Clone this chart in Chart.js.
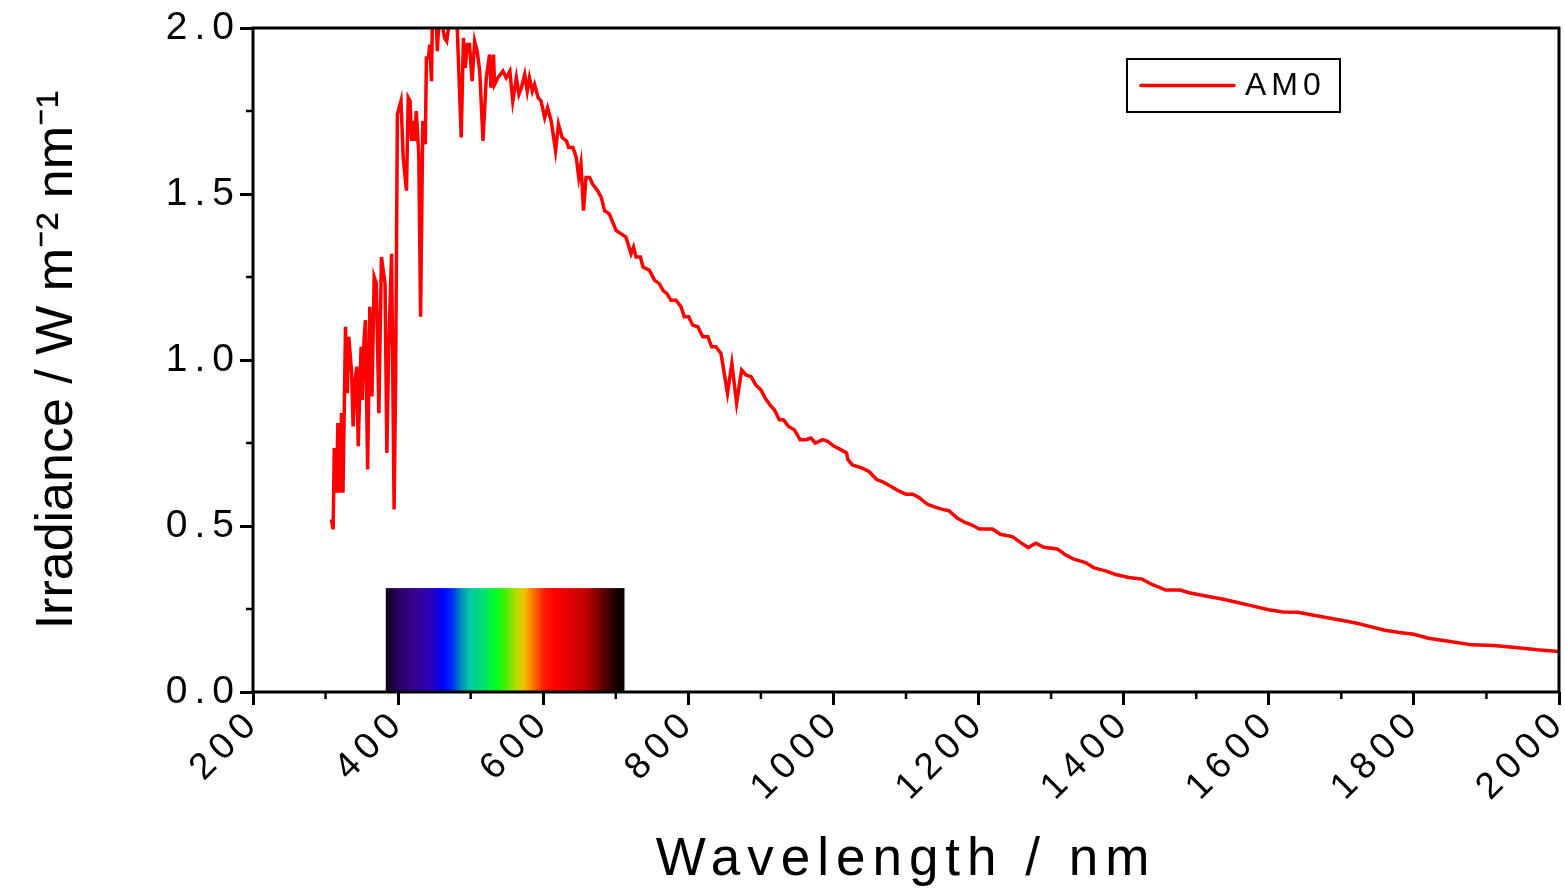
<!DOCTYPE html>
<html>
<head>
<meta charset="utf-8">
<title>AM0 solar spectrum</title>
<script src="https://cdn.jsdelivr.net/npm/chart.js@4.4.1/dist/chart.umd.min.js"></script>
<style>
  html, body { margin: 0; padding: 0; background: #fff; }
  #wrap { width: 1565px; height: 893px; }
</style>
</head>
<body>
<div id="wrap"><canvas id="am0chart" width="1565" height="893"></canvas></div>
<script>
 "use strict";

	/*----------------------------------------*/
	/*  data
	/*----------------------------------------*/
var wavelength = [
  308, 310.5, 312, 315, 317, 320, 322, 324, 327.5, 330, 332, 336, 338, 340.5, 343, 345,
  349, 350.5, 353, 355, 358, 361, 364, 367, 370, 373.5, 377, 382, 384.5, 387, 391, 394.5,
  396.5, 399, 404, 407, 411.5, 414, 416.5, 418.5, 420.5, 423, 425, 428.5, 431, 434, 437.5,
  439, 442, 443.5, 446, 447.5, 450, 452, 454, 457, 460, 464, 467, 470, 474, 478, 481, 484,
  487, 490, 492.5, 495.5, 498.5, 502, 505.5, 509, 512.5, 517, 521.5, 526, 528, 531.5, 533,
  537.5, 544.5, 549, 554, 558, 563, 566.5, 570, 574.5, 578, 581, 585, 588, 593, 597, 602,
  606, 611, 617, 621, 626, 632, 635, 641, 645.5, 649, 652, 655.5, 659, 664, 668, 675, 680,
  684.5, 691, 700.5, 707.5, 714, 721, 724.5, 728, 734, 737.5, 746.5, 753.5, 760, 765, 770.5,
  776, 783, 790, 794.5, 800.5, 806, 813, 820, 827, 832, 838, 845, 854, 860, 866.5, 873.5,
  879.5, 886.5, 893, 900, 906, 912.5, 918.5, 925.5, 931, 938, 946, 954, 962, 969, 975, 985,
  992, 1001, 1010, 1018, 1020, 1026, 1038, 1049, 1059.5, 1068, 1079, 1090.5, 1100, 1109,
  1118, 1129, 1141, 1150, 1159, 1171, 1182, 1191, 1201, 1219, 1230, 1246.5, 1258, 1268.5,
  1279, 1290, 1308.5, 1320, 1331.5, 1347.5, 1359, 1375, 1389, 1407, 1425.5, 1439, 1458,
  1478, 1490, 1513, 1536, 1560, 1580, 1600, 1620, 1640, 1660, 1700, 1720, 1740, 1760, 1780,
  1800, 1820, 1850, 1880, 1910, 1940, 1970, 2000
];
var irradiance = [
  0.52, 0.49, 0.735, 0.60, 0.81, 0.60, 0.84, 0.60, 1.10, 0.90, 1.07, 0.96, 0.80, 0.93, 0.98, 0.74,
  1.04, 0.88, 1.06, 1.12, 0.67, 1.16, 0.89, 1.25, 1.23, 0.84, 1.31, 1.23, 0.72, 1.03, 1.32, 0.55,
  0.92, 1.74, 1.78, 1.61, 1.51, 1.79, 1.78, 1.66, 1.72, 1.66, 1.75, 1.62, 1.13, 1.72, 1.65,
  1.91, 1.91, 1.95, 1.84, 2.06, 2.03, 2.06, 1.93, 2.05, 2.02, 1.97, 1.96, 2.01, 2.06, 2.05, 2.03, 1.85,
  1.67, 1.97, 1.88, 1.95, 1.95, 1.84, 1.96, 1.93, 1.87, 1.66, 1.85, 1.92, 1.82, 1.92, 1.83,
  1.85, 1.87, 1.85, 1.87, 1.78, 1.85, 1.80, 1.82, 1.86, 1.81, 1.85, 1.81, 1.83, 1.79, 1.78, 1.73,
  1.76, 1.72, 1.63, 1.71, 1.67, 1.66, 1.64, 1.64, 1.61, 1.55, 1.59, 1.45, 1.55, 1.55, 1.53, 1.51, 1.49,
  1.45, 1.44, 1.39, 1.38, 1.37, 1.32, 1.34, 1.31, 1.31, 1.28, 1.27, 1.24, 1.23, 1.21, 1.20,
  1.18, 1.18, 1.16, 1.13, 1.13, 1.105, 1.10, 1.07, 1.07, 1.04, 1.04, 1.02, 0.90, 0.99, 0.87, 0.97,
  0.955, 0.95, 0.925, 0.91, 0.885, 0.865, 0.85, 0.82, 0.82, 0.80, 0.79, 0.76, 0.76, 0.765, 0.75, 0.76,
  0.755, 0.74, 0.73, 0.72, 0.70, 0.684, 0.676, 0.664, 0.64, 0.633, 0.62, 0.605, 0.596, 0.596,
  0.586, 0.566, 0.556, 0.55, 0.546, 0.523, 0.51, 0.503, 0.491, 0.491, 0.475, 0.468, 0.45, 0.435,
  0.448, 0.436, 0.431, 0.413, 0.40, 0.39, 0.374, 0.365, 0.354, 0.345, 0.34, 0.324, 0.307,
  0.307, 0.299, 0.289, 0.28, 0.268, 0.258, 0.248, 0.241, 0.24, 0.232, 0.216, 0.208, 0.197, 0.186, 0.179,
  0.174, 0.162, 0.152, 0.142, 0.14, 0.134, 0.127, 0.122
];
var seriesLabel = "AM0";

var xTicks = [200, 400, 600, 800, 1000, 1200, 1400, 1600, 1800, 2000];
var yTicks = [0.0, 0.5, 1.0, 1.5, 2.0];

// visible band drawn as a colour strip (nm, and its height in W m-2 nm-1)
var visibleBand = [383, 712];
var visibleTop = 0.313;

var FONT = "'Liberation Sans', Arial, Helvetica, sans-serif";

	/*----------------------------------------*/
	/*  extras: spectrum strip, frame, minor ticks, boxed legend
	/*----------------------------------------*/
function minorValues(major) {
  var out = [];
  for (var i = 0; i < major.length - 1; i++) out.push((major[i] + major[i + 1]) / 2);
  return out;
}

var extras = {
  id: 'extras',
  beforeDraw: function (chart) {
    chart.ctx.letterSpacing = '0px';   // y title
  },
  beforeDatasetsDraw: function (chart) {
    var ctx = chart.ctx, xs = chart.scales.x, ys = chart.scales.y;
    var x0 = xs.getPixelForValue(visibleBand[0]);
    var x1 = xs.getPixelForValue(visibleBand[1]);
    var y0 = ys.getPixelForValue(visibleTop);
    var y1 = ys.getPixelForValue(0) - 1;
    var g = ctx.createLinearGradient(x0, 0, x1, 0);
    g.addColorStop(0.00, '#0d0018');
    g.addColorStop(0.05, '#2a0060');
    g.addColorStop(0.12, '#3a0090');
    g.addColorStop(0.19, '#2a00c0');
    g.addColorStop(0.24, '#0000ff');
    g.addColorStop(0.28, '#0030f0');
    g.addColorStop(0.31, '#0080c0');
    g.addColorStop(0.35, '#00c8a0');
    g.addColorStop(0.41, '#00e070');
    g.addColorStop(0.46, '#00ff20');
    g.addColorStop(0.50, '#40f000');
    g.addColorStop(0.55, '#c0d800');
    g.addColorStop(0.58, '#f0c000');
    g.addColorStop(0.62, '#ff7000');
    g.addColorStop(0.66, '#ff2000');
    g.addColorStop(0.71, '#ff0000');
    g.addColorStop(0.84, '#c00000');
    g.addColorStop(0.91, '#600000');
    g.addColorStop(0.97, '#100000');
    g.addColorStop(1.00, '#080000');
    ctx.save();
    ctx.fillStyle = g;
    ctx.fillRect(x0, y0, x1 - x0, y1 - y0);
    ctx.restore();
  },
  afterDatasetsDraw: function (chart) {
    var ctx = chart.ctx, a = chart.chartArea, xs = chart.scales.x, ys = chart.scales.y;
    ctx.save();
    ctx.strokeStyle = '#000';
    ctx.lineWidth = 3;
    ctx.strokeRect(a.left, a.top, a.right - a.left, a.bottom - a.top);
    ctx.lineWidth = 2.5;
    ctx.beginPath();
    minorValues(xTicks).forEach(function (v) {
      var px = xs.getPixelForValue(v);
      ctx.moveTo(px, a.bottom);
      ctx.lineTo(px, a.bottom + 7);
    });
    minorValues(yTicks).forEach(function (v) {
      var py = ys.getPixelForValue(v);
      ctx.moveTo(a.left, py);
      ctx.lineTo(a.left - 7, py);
    });
    ctx.stroke();
    ctx.restore();
    // x title and all tick labels are drawn after this (z = 1)
    ctx.letterSpacing = '7px';
  },
  afterDraw: function (chart) {
    var ctx = chart.ctx, a = chart.chartArea;
    var ds = chart.data.datasets[0];
    var bx = a.right - 432, by = a.top + 31, bw = 213, bh = 53;
    ctx.save();
    ctx.letterSpacing = '5px';
    ctx.strokeStyle = '#000';
    ctx.lineWidth = 2;
    ctx.strokeRect(bx, by, bw, bh);
    ctx.strokeStyle = ds.borderColor;
    ctx.lineWidth = 3.5;
    ctx.lineCap = 'round';
    ctx.beginPath();
    ctx.moveTo(bx + 14, by + bh / 2);
    ctx.lineTo(bx + 107, by + bh / 2);
    ctx.stroke();
    ctx.fillStyle = '#000';
    ctx.font = '32px ' + FONT;
    ctx.textBaseline = 'middle';
    ctx.textAlign = 'left';
    ctx.fillText(ds.label, bx + 118, by + bh / 2 + 1);
    ctx.restore();
    ctx.letterSpacing = '0px';
  }
};

	/*----------------------------------------*/
	/*  line chart
	/*----------------------------------------*/
var points = wavelength.map(function (w, i) { return { x: w, y: irradiance[i] }; });

var ctx = document.getElementById("am0chart");
var am0chart = new Chart(ctx, {
  type: 'line',
  data: {
    datasets: [{
      label: seriesLabel,
      data: points,
      borderColor: '#ff0000',
      borderWidth: 3.5,
      pointRadius: 0,
      tension: 0,
      fill: false,
      clip: 0
    }]
  },
  options: {
    responsive: false,
    animation: false,
    devicePixelRatio: 1,
    layout: { padding: { top: 28, right: 6, left: 0, bottom: 0 } },
    plugins: {
      legend: { display: false },
      tooltip: { enabled: false }
    },
    scales: {
      x: {
        type: 'linear',
        min: 200,
        max: 2000,
        afterBuildTicks: function (s) { s.ticks = xTicks.map(function (v) { return { value: v }; }); },
        afterFit: function (s) { s.height = 201; s.paddingLeft = 0; s.paddingRight = 0; },
        border: { display: false },
        grid: { z: 1, drawOnChartArea: false, drawTicks: true, tickLength: 13, tickWidth: 3, tickColor: '#000' },
        ticks: {
          z: 1,
          autoSkip: false,
          minRotation: 45,
          maxRotation: 45,
          padding: -5,
          labelOffset: 2,
          color: '#000',
          font: { family: FONT, size: 37 },
          callback: function (v) { return String(v); }
        },
        title: {
          display: true,
          text: 'Wavelength / nm',
          color: '#000',
          font: { family: FONT, size: 53 },
          padding: { top: 0, bottom: 1 }
        }
      },
      y: {
        min: 0,
        max: 2,
        afterBuildTicks: function (s) { s.ticks = yTicks.map(function (v) { return { value: v }; }); },
        afterFit: function (s) { s.width = 253; s.paddingTop = 0; s.paddingBottom = 0; },
        border: { display: false },
        grid: { drawOnChartArea: false, drawTicks: true, tickLength: 13, tickWidth: 3, tickColor: '#000' },
        ticks: {
          z: 1,
          padding: -1,
          color: '#000',
          font: { family: FONT, size: 39 },
          callback: function (v) { return v.toFixed(1); }
        },
        title: {
          display: true,
          text: 'Irradiance / W m\u207B\u00B2 nm\u207B\u00B9',
          color: '#000',
          font: { family: FONT, size: 52 },
          padding: { top: 26, bottom: 0 }
        }
      }
    }
  },
  plugins: [extras]
});
</script>
</body>
</html>
